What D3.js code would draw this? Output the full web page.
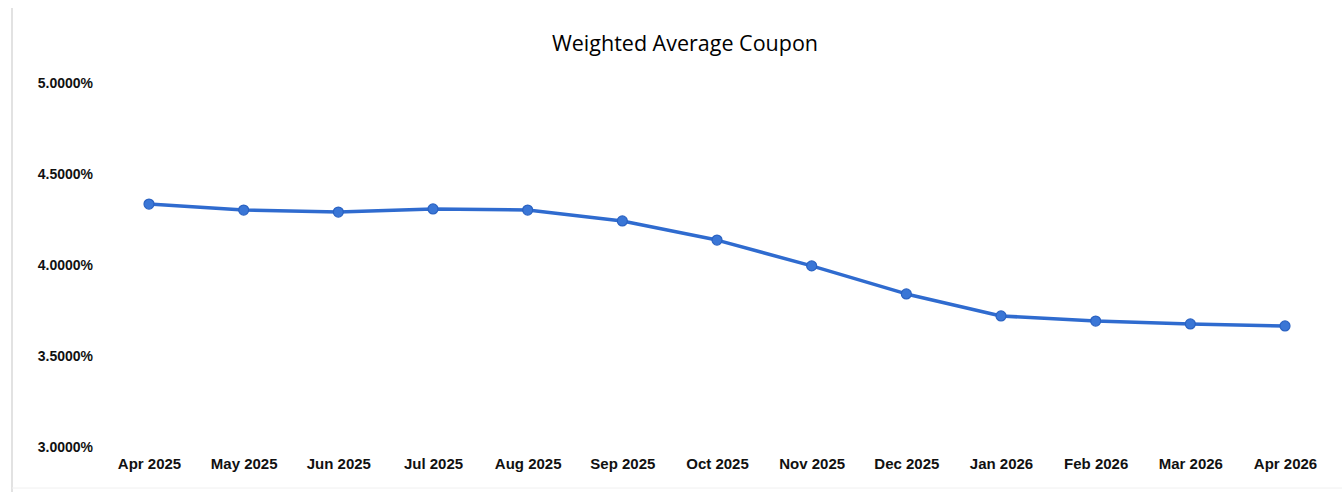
<!DOCTYPE html>
<html>
<head>
<meta charset="utf-8">
<script src="https://cdn.jsdelivr.net/npm/d3@7"></script>
<style>
  body { margin: 0; background: #fff; }
</style>
</head>
<body>
<div id="chart-container"></div>
<script>
// values
const months = ["Apr 2025", "May 2025", "Jun 2025", "Jul 2025", "Aug 2025", "Sep 2025",
  "Oct 2025", "Nov 2025", "Dec 2025", "Jan 2026", "Feb 2026", "Mar 2026", "Apr 2026"];
const coupon = [4.335, 4.302, 4.291, 4.308, 4.302, 4.242, 4.137, 3.995, 3.841, 3.720, 3.692, 3.676, 3.665];
const yTicks = [3.0, 3.5, 4.0, 4.5, 5.0];

((() => {
  const width = 1342;
  const height = 492;
  const marginTop = 83;
  const marginBottom = 45;
  const marginLeft = 149;
  const marginRight = 57;

  const data = months.map((m, i) => ({month: m, value: coupon[i]}));

  const x = d3.scalePoint()
    .domain(months)
    .range([marginLeft, width - marginRight]);

  const y = d3.scaleLinear()
    .domain([3, 5])
    .range([height - marginBottom, marginTop]);

  const svg = d3.create("svg")
    .attr("width", width)
    .attr("height", height)
    .attr("viewBox", [0, 0, width, height]);

  // faint scan edge lines
  svg.append("line")
    .attr("x1", 12).attr("x2", 12).attr("y1", 8).attr("y2", height)
    .attr("stroke", "#e2e2e2").attr("stroke-width", 2);
  svg.append("line")
    .attr("x1", 12).attr("x2", width).attr("y1", 488).attr("y2", 488)
    .attr("stroke", "#f0f0f0").attr("stroke-width", 1);

  // title
  svg.append("text")
    .attr("x", 685)
    .attr("y", 51)
    .attr("text-anchor", "middle")
    .attr("font-family", "'Open Sans', sans-serif")
    .attr("font-size", 21.5)
    .attr("font-weight", 500)
    .attr("fill", "#000")
    .text("Weighted Average Coupon");

  // y-axis
  svg.append("g")
    .attr("transform", `translate(93,0)`)
    .call(d3.axisLeft(y).tickValues(yTicks).tickSize(0).tickPadding(0)
      .tickFormat(d => d.toFixed(4) + "%"))
    .call(g => g.select(".domain").remove())
    .selectAll("text")
    .attr("font-family", "'Liberation Sans', Arial, sans-serif")
    .style("font-size", "14px")
    .attr("font-weight", "bold")
    .attr("fill", "#111");

  // x-axis
  svg.append("g")
    .attr("transform", `translate(0,${height - marginBottom})`)
    .call(d3.axisBottom(x).tickSize(0).tickPadding(11))
    .call(g => g.select(".domain").remove())
    .selectAll("text")
    .attr("font-family", "'Liberation Sans', Arial, sans-serif")
    .style("font-size", "15px")
    .attr("font-weight", "bold")
    .attr("fill", "#111");

  const line = d3.line()
    .x(d => x(d.month))
    .y(d => y(d.value));

  svg.append("path")
    .datum(data)
    .attr("fill", "none")
    .attr("stroke", "#2f6bcf")
    .attr("stroke-width", 3.5)
    .attr("stroke-linejoin", "round")
    .attr("d", line);

  svg.append("g")
    .selectAll("circle")
    .data(data)
    .enter()
    .append("circle")
    .attr("cx", d => x(d.month))
    .attr("cy", d => y(d.value))
    .attr("r", 5)
    .attr("fill", "#3a76d6")
    .attr("stroke", "#2a62c2")
    .attr("stroke-width", 1.2);

  d3.select("#chart-container").append(() => svg.node());
})());
</script>
</body>
</html>
